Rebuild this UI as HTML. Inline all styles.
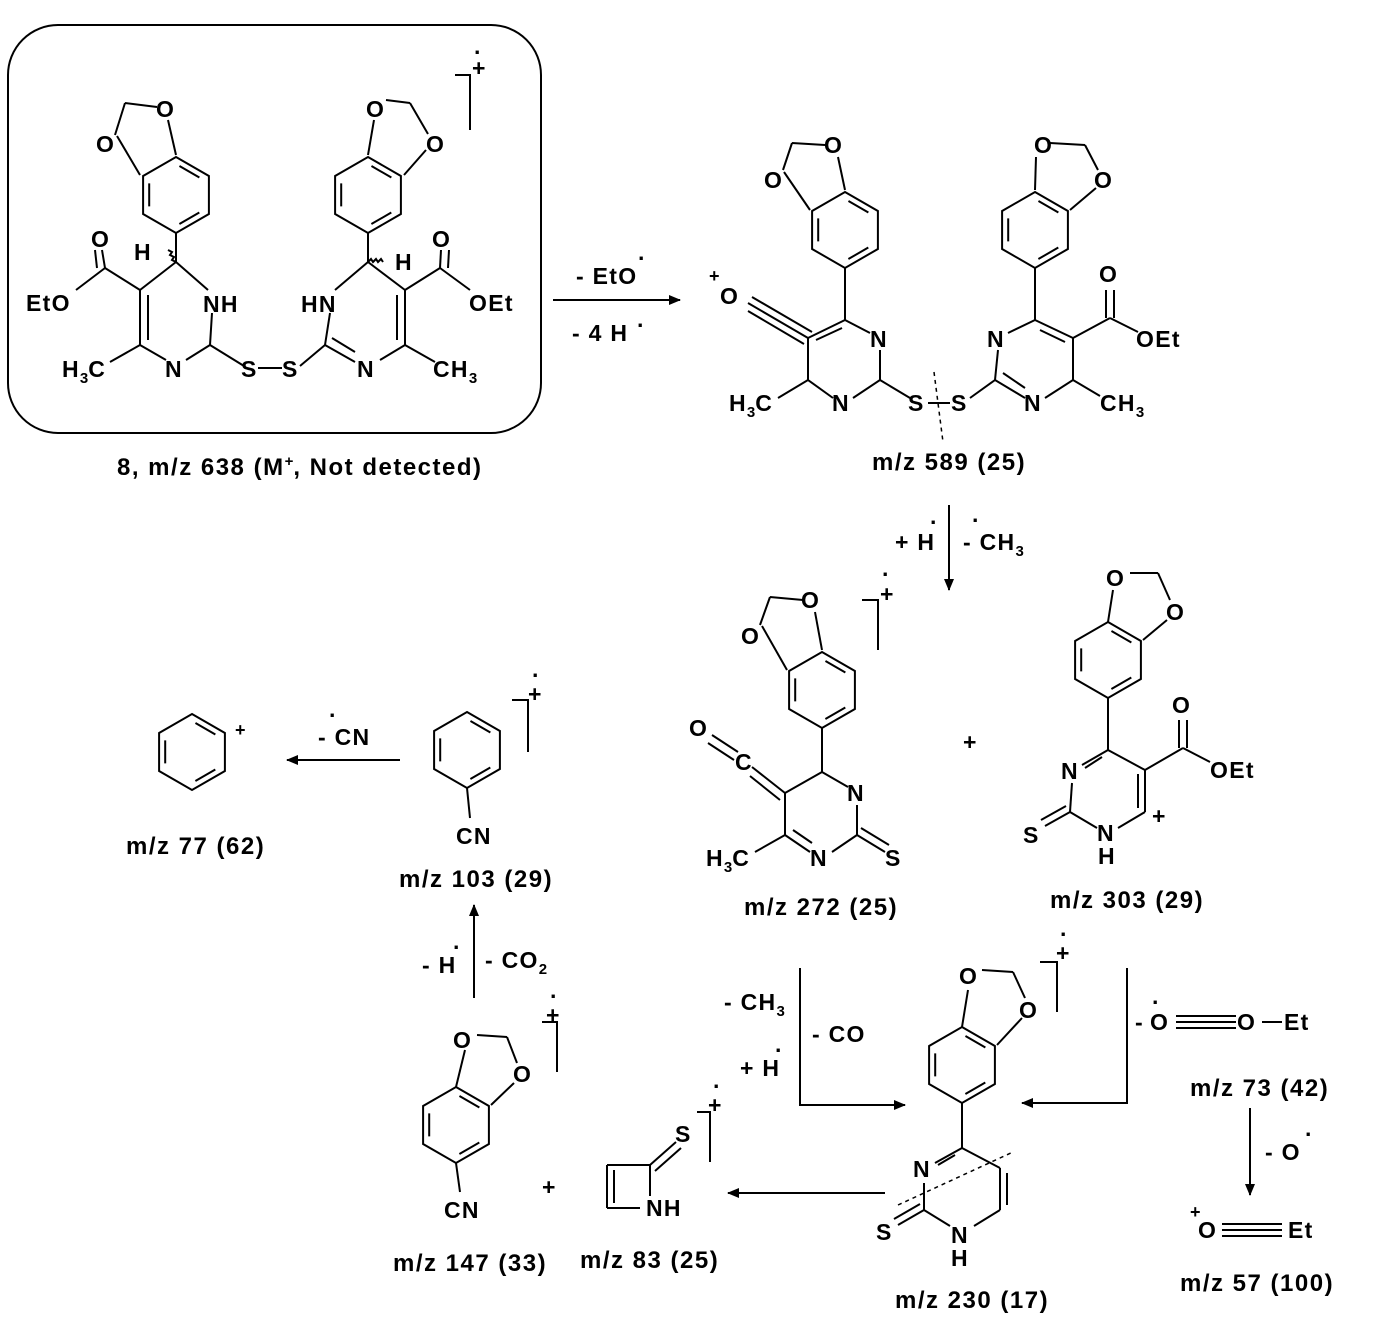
<!DOCTYPE html>
<html><head><meta charset="utf-8"><style>
html,body{margin:0;padding:0;background:#fff}
svg{display:block}
text{font-family:"Liberation Sans",Arial,sans-serif;font-weight:bold;font-size:23px;letter-spacing:1.3px;fill:#000}
.c{font-size:24px;letter-spacing:1.5px}
.s{font-size:15px;letter-spacing:0}
</style></head><body>
<svg width="1388" height="1334" viewBox="0 0 1388 1334" xmlns="http://www.w3.org/2000/svg">
<defs>
<g id="bz">
<polygon points="0,-38 32.9,-19 32.9,19 0,38 -32.9,19 -32.9,-19" fill="none" stroke="#000" stroke-width="2"/>
<polygon points="0,-31 26.8,-15.5 26.8,15.5 0,31 -26.8,15.5 -26.8,-15.5" fill="none" stroke="#000" stroke-width="2" stroke-dasharray="0 4 23 35"/>
</g>
<marker id="ah" markerWidth="12" markerHeight="10" refX="11" refY="5" orient="auto" markerUnits="userSpaceOnUse"><path d="M0,0 L12,5 L0,10 Z" fill="#000"/></marker>
</defs>
<g stroke="#000" stroke-width="2" fill="none">
<rect x="8" y="25" width="533" height="408" rx="50"/>
<!-- left molecule -->
<line x1="117" y1="136" x2="140" y2="175"/><line x1="115" y1="135" x2="125" y2="103"/><line x1="125" y1="103" x2="157" y2="107"/><line x1="168" y1="120" x2="176" y2="155"/>
<line x1="176" y1="233" x2="176" y2="262"/>
<line x1="176" y1="262" x2="208" y2="290"/><line x1="212" y1="313" x2="210" y2="345"/><line x1="210" y1="345" x2="186" y2="360"/><line x1="166" y1="360" x2="140" y2="345"/><line x1="140" y1="345" x2="140" y2="290"/><line x1="148" y1="340" x2="148" y2="295"/><line x1="140" y1="290" x2="176" y2="262"/>
<line x1="140" y1="290" x2="105" y2="268"/><line x1="105" y1="268" x2="102" y2="250"/><line x1="97" y1="268" x2="95" y2="250"/><line x1="105" y1="268" x2="76" y2="290"/>
<line x1="140" y1="345" x2="110" y2="362"/><line x1="210" y1="345" x2="244" y2="366"/><line x1="258" y1="368" x2="282" y2="368"/>
<!-- right molecule -->
<line x1="374" y1="120" x2="368" y2="155"/><line x1="386" y1="100" x2="410" y2="103"/><line x1="410" y1="103" x2="428" y2="134"/><line x1="426" y1="150" x2="404" y2="175"/>
<line x1="368" y1="233" x2="368" y2="262"/>
<line x1="368" y1="262" x2="335" y2="290"/><line x1="330" y1="313" x2="325" y2="345"/><line x1="325" y1="345" x2="300" y2="366"/><line x1="325" y1="345" x2="355" y2="362"/><line x1="332" y1="338" x2="355" y2="352"/><line x1="380" y1="360" x2="405" y2="345"/><line x1="405" y1="345" x2="405" y2="290"/><line x1="397" y1="340" x2="397" y2="295"/><line x1="405" y1="290" x2="368" y2="262"/>
<line x1="405" y1="290" x2="440" y2="268"/><line x1="440" y1="268" x2="441" y2="250"/><line x1="448" y1="268" x2="449" y2="250"/><line x1="440" y1="268" x2="470" y2="290"/>
<line x1="405" y1="345" x2="435" y2="362"/>
<polyline points="455,75 470,75 470,130"/>
<path d="M176,262 l-4,-2 l2,-3 l-4,-2 l2,-3 l-4,-2" /><path d="M368,262 l3,-3 l2,3 l3,-3 l2,3 l3,-3 l2,3"/>
<line x1="553" y1="300" x2="680" y2="300" marker-end="url(#ah)"/>
<!-- 589 -->
<line x1="784" y1="172" x2="810" y2="210"/><line x1="783" y1="170" x2="792" y2="143"/><line x1="792" y1="143" x2="825" y2="145"/><line x1="838" y1="157" x2="845" y2="190"/>
<line x1="845" y1="268" x2="845" y2="320"/>
<line x1="845" y1="320" x2="870" y2="333"/><line x1="880" y1="350" x2="880" y2="380"/><line x1="880" y1="380" x2="853" y2="398"/><line x1="833" y1="398" x2="808" y2="380"/><line x1="808" y1="380" x2="808" y2="338"/><line x1="808" y1="338" x2="845" y2="320"/><line x1="816" y1="340" x2="842" y2="328"/>
<line x1="808" y1="338" x2="748" y2="303"/><line x1="804" y1="344" x2="748" y2="311"/><line x1="812" y1="332" x2="752" y2="297"/>
<line x1="808" y1="380" x2="778" y2="398"/><line x1="880" y1="380" x2="910" y2="398"/><line x1="928" y1="403" x2="950" y2="403"/>
<line x1="934" y1="372" x2="943" y2="442" stroke-dasharray="4 4" stroke-width="1.5"/>
<line x1="1036" y1="157" x2="1035" y2="190"/><line x1="1050" y1="143" x2="1085" y2="145"/><line x1="1085" y1="145" x2="1098" y2="170"/><line x1="1096" y1="188" x2="1070" y2="210"/>
<line x1="1035" y1="268" x2="1035" y2="320"/>
<line x1="1035" y1="320" x2="1008" y2="333"/><line x1="998" y1="350" x2="995" y2="380"/><line x1="995" y1="380" x2="970" y2="398"/><line x1="995" y1="380" x2="1025" y2="398"/><line x1="1003" y1="373" x2="1025" y2="388"/><line x1="1045" y1="398" x2="1073" y2="380"/><line x1="1073" y1="380" x2="1073" y2="338"/><line x1="1073" y1="338" x2="1035" y2="320"/><line x1="1065" y1="342" x2="1040" y2="330"/>
<line x1="1073" y1="338" x2="1110" y2="318"/><line x1="1106" y1="318" x2="1106" y2="290"/><line x1="1114" y1="318" x2="1114" y2="290"/><line x1="1110" y1="318" x2="1138" y2="332"/>
<line x1="1073" y1="380" x2="1100" y2="396"/>
<line x1="949" y1="505" x2="949" y2="590" marker-end="url(#ah)"/>
<!-- 272 -->
<line x1="762" y1="626" x2="787" y2="670"/><line x1="760" y1="625" x2="770" y2="597"/><line x1="770" y1="597" x2="803" y2="600"/><line x1="815" y1="612" x2="822" y2="650"/>
<line x1="822" y1="728" x2="822" y2="772"/>
<line x1="822" y1="772" x2="848" y2="787"/><line x1="857" y1="805" x2="857" y2="835"/><line x1="857" y1="835" x2="832" y2="852"/><line x1="810" y1="852" x2="785" y2="835"/><line x1="793" y1="830" x2="812" y2="843"/><line x1="785" y1="835" x2="785" y2="793"/><line x1="785" y1="793" x2="822" y2="772"/>
<line x1="785" y1="793" x2="752" y2="767"/><line x1="780" y1="800" x2="750" y2="776"/>
<line x1="738" y1="752" x2="712" y2="735"/><line x1="734" y1="760" x2="708" y2="743"/>
<line x1="857" y1="835" x2="885" y2="852"/><line x1="861" y1="828" x2="889" y2="845"/>
<line x1="785" y1="835" x2="755" y2="852"/>
<polyline points="862,600 878,600 878,650"/>
<!-- 303 -->
<line x1="1113" y1="590" x2="1108" y2="622"/><line x1="1130" y1="573" x2="1158" y2="573"/><line x1="1158" y1="573" x2="1170" y2="600"/><line x1="1167" y1="620" x2="1143" y2="640"/>
<line x1="1108" y1="698" x2="1108" y2="750"/>
<line x1="1108" y1="750" x2="1082" y2="765"/><line x1="1102" y1="757" x2="1085" y2="768"/><line x1="1072" y1="783" x2="1070" y2="812"/><line x1="1070" y1="812" x2="1097" y2="828"/><line x1="1118" y1="828" x2="1145" y2="812"/><line x1="1145" y1="812" x2="1145" y2="770"/><line x1="1138" y1="808" x2="1138" y2="774"/><line x1="1145" y1="770" x2="1108" y2="750"/>
<line x1="1070" y1="812" x2="1045" y2="826"/><line x1="1066" y1="806" x2="1041" y2="820"/>
<line x1="1145" y1="770" x2="1183" y2="748"/><line x1="1179" y1="748" x2="1179" y2="720"/><line x1="1187" y1="748" x2="1187" y2="720"/><line x1="1183" y1="748" x2="1210" y2="762"/>
<polyline points="800,968 800,1105 905,1105" marker-end="url(#ah)"/>
<polyline points="1127,968 1127,1103 1022,1103" marker-end="url(#ah)"/>
<line x1="1176" y1="1016" x2="1236" y2="1016"/><line x1="1176" y1="1022" x2="1236" y2="1022"/><line x1="1176" y1="1028" x2="1236" y2="1028"/>
<line x1="1262" y1="1022" x2="1282" y2="1022"/>
<line x1="1250" y1="1108" x2="1250" y2="1195" marker-end="url(#ah)"/>
<line x1="1222" y1="1224" x2="1282" y2="1224"/><line x1="1222" y1="1230" x2="1282" y2="1230"/><line x1="1222" y1="1236" x2="1282" y2="1236"/>
<!-- 230 -->
<line x1="962" y1="1027" x2="968" y2="990"/><line x1="982" y1="970" x2="1013" y2="972"/><line x1="1013" y1="972" x2="1025" y2="998"/><line x1="1022" y1="1018" x2="997" y2="1045"/>
<line x1="962" y1="1103" x2="962" y2="1148"/>
<line x1="962" y1="1148" x2="935" y2="1163"/><line x1="955" y1="1155" x2="938" y2="1165"/><line x1="924" y1="1183" x2="924" y2="1210"/><line x1="924" y1="1210" x2="950" y2="1226"/><line x1="974" y1="1226" x2="1000" y2="1210"/><line x1="1000" y1="1210" x2="1000" y2="1168"/><line x1="1007" y1="1205" x2="1007" y2="1173"/><line x1="1000" y1="1168" x2="962" y2="1148"/>
<line x1="924" y1="1210" x2="898" y2="1225"/><line x1="920" y1="1204" x2="894" y2="1219"/>
<line x1="898" y1="1205" x2="1013" y2="1152" stroke-dasharray="4 4" stroke-width="1.5"/>
<polyline points="1040,962 1057,962 1057,1012"/>
<line x1="885" y1="1193" x2="728" y2="1193" marker-end="url(#ah)"/>
<!-- 83 -->
<line x1="607" y1="1165" x2="650" y2="1165"/>
<line x1="607" y1="1165" x2="607" y2="1208"/><line x1="614" y1="1170" x2="614" y2="1203"/>
<line x1="650" y1="1165" x2="650" y2="1196"/><line x1="607" y1="1208" x2="640" y2="1208"/>
<line x1="650" y1="1165" x2="676" y2="1142"/><line x1="655" y1="1171" x2="681" y2="1148"/>
<polyline points="697,1112 710,1112 710,1162"/>
<!-- 147 -->
<line x1="465" y1="1050" x2="456" y2="1087"/><line x1="477" y1="1035" x2="507" y2="1037"/><line x1="507" y1="1037" x2="517" y2="1063"/><line x1="514" y1="1083" x2="491" y2="1105"/>
<line x1="456" y1="1163" x2="460" y2="1192"/>
<polyline points="542,1022 557,1022 557,1072"/>
<line x1="474" y1="998" x2="474" y2="905" marker-end="url(#ah)"/>
<!-- 103 -->
<line x1="467" y1="788" x2="470" y2="818"/>
<polyline points="512,700 528,700 528,752"/>
<line x1="400" y1="760" x2="287" y2="760" marker-end="url(#ah)"/>
</g>
<use href="#bz" x="176" y="195"/>
<use href="#bz" x="368" y="195"/>
<use href="#bz" x="845" y="230"/>
<use href="#bz" x="1035" y="230"/>
<use href="#bz" x="822" y="690"/>
<use href="#bz" x="1108" y="660"/>
<use href="#bz" x="962" y="1065"/>
<use href="#bz" x="456" y="1125"/>
<use href="#bz" x="467" y="750"/>
<use href="#bz" x="192" y="752"/>
<g>
<text x="96" y="152">O</text><text x="156" y="117">O</text>
<text x="134" y="260">H</text><text x="203" y="312">NH</text>
<text x="91" y="247">O</text><text x="26" y="311">EtO</text>
<text x="62" y="377">H<tspan class="s" dy="6">3</tspan><tspan dy="-6">C</tspan></text>
<text x="165" y="377">N</text><text x="241" y="377">S</text><text x="282" y="377">S</text>
<text x="301" y="312">HN</text><text x="395" y="270">H</text><text x="357" y="377">N</text>
<text x="366" y="117">O</text><text x="426" y="152">O</text>
<text x="432" y="247">O</text><text x="469" y="311">OEt</text>
<text x="433" y="377">CH<tspan class="s" dy="6">3</tspan></text>
<text x="472" y="76">+</text><text x="474" y="60">·</text>
<text class="c" x="117" y="475">8, m/z 638 (M<tspan class="s" dy="-9">+</tspan><tspan dy="9">, Not detected)</tspan></text>
<text x="576" y="284">- EtO</text><text x="638" y="266">·</text>
<text x="572" y="341">- 4 H</text><text x="637" y="333">·</text>
<text x="764" y="188">O</text><text x="824" y="153">O</text>
<text x="1034" y="153">O</text><text x="1094" y="188">O</text>
<text x="709" y="282" style="font-size:18px">+</text><text x="720" y="304">O</text>
<text x="870" y="347">N</text><text x="832" y="411">N</text>
<text x="729" y="411">H<tspan class="s" dy="6">3</tspan><tspan dy="-6">C</tspan></text>
<text x="908" y="411">S</text><text x="951" y="411">S</text>
<text x="987" y="347">N</text><text x="1024" y="411">N</text>
<text x="1099" y="282">O</text><text x="1136" y="347">OEt</text>
<text x="1100" y="411">CH<tspan class="s" dy="6">3</tspan></text>
<text class="c" x="872" y="470">m/z 589 (25)</text>
<text x="895" y="550">+ H</text><text x="930" y="530">·</text>
<text x="963" y="550">- CH<tspan class="s" dy="6">3</tspan></text><text x="972" y="528">·</text>
<text x="741" y="644">O</text><text x="801" y="608">O</text>
<text x="689" y="736">O</text><text x="735" y="770">C</text>
<text x="847" y="801">N</text><text x="810" y="866">N</text><text x="885" y="866">S</text>
<text x="706" y="866">H<tspan class="s" dy="6">3</tspan><tspan dy="-6">C</tspan></text>
<text x="880" y="602">+</text><text x="882" y="582">·</text>
<text class="c" x="744" y="915">m/z 272 (25)</text>
<text x="963" y="750">+</text>
<text x="1106" y="586">O</text><text x="1166" y="620">O</text>
<text x="1172" y="713">O</text><text x="1210" y="778">OEt</text>
<text x="1061" y="779">N</text><text x="1097" y="841">N</text><text x="1098" y="864">H</text>
<text x="1023" y="843">S</text><text x="1152" y="824">+</text>
<text class="c" x="1050" y="908">m/z 303 (29)</text>
<text x="724" y="1010">- CH<tspan class="s" dy="6">3</tspan></text>
<text x="812" y="1042">- CO</text>
<text x="740" y="1076">+ H</text><text x="775" y="1058">·</text>
<text x="1135" y="1030">-</text><text x="1150" y="1030">O</text><text x="1152" y="1010">·</text>
<text x="1237" y="1030">O</text><text x="1284" y="1030">Et</text>
<text class="c" x="1190" y="1096">m/z 73 (42)</text>
<text x="1265" y="1160">- O</text><text x="1305" y="1142">·</text>
<text x="1190" y="1218" style="font-size:18px">+</text><text x="1198" y="1238">O</text><text x="1288" y="1238">Et</text>
<text class="c" x="1180" y="1291">m/z 57 (100)</text>
<text x="959" y="984">O</text><text x="1019" y="1018">O</text>
<text x="913" y="1177">N</text><text x="951" y="1243">N</text><text x="951" y="1266">H</text>
<text x="876" y="1240">S</text>
<text x="1056" y="961">+</text><text x="1060" y="942">·</text>
<text class="c" x="895" y="1308">m/z 230 (17)</text>
<text x="675" y="1142">S</text><text x="646" y="1216">NH</text>
<text x="708" y="1113">+</text><text x="713" y="1094">·</text>
<text class="c" x="580" y="1268">m/z 83 (25)</text>
<text x="542" y="1195">+</text>
<text x="453" y="1048">O</text><text x="513" y="1082">O</text>
<text x="444" y="1218">CN</text>
<text x="546" y="1023">+</text><text x="550" y="1004">·</text>
<text class="c" x="393" y="1271">m/z 147 (33)</text>
<text x="422" y="973">- H</text><text x="453" y="955">·</text>
<text x="485" y="968">- CO<tspan class="s" dy="6">2</tspan></text>
<text x="456" y="844">CN</text>
<text x="528" y="702">+</text><text x="532" y="683">·</text>
<text class="c" x="399" y="887">m/z 103 (29)</text>
<text x="318" y="745">- CN</text><text x="329" y="723">·</text>
<text x="235" y="736" style="font-size:18px">+</text>
<text class="c" x="126" y="854">m/z 77 (62)</text>
</g>
</svg>
</body></html>
